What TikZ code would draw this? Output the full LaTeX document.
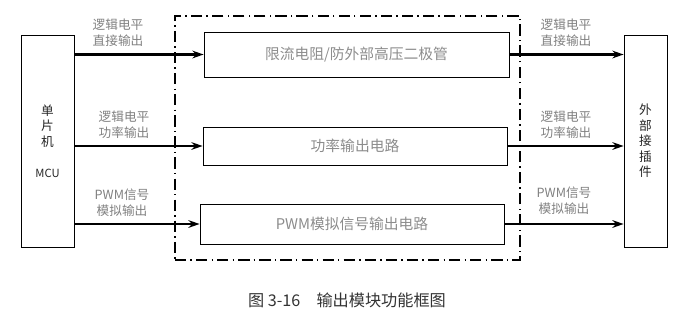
\documentclass[tikz,border=0pt]{standalone}
\usepackage{fontspec}
\newfontfamily\cjk{Noto Sans CJK SC}
\usetikzlibrary{arrows.meta,positioning,calc}

\begin{document}
\begin{tikzpicture}[
    blk/.style={draw, line width=0.6pt, minimum width=7.6cm, minimum height=1cm, align=center, font=\cjk\fontsize{10.5}{12}\selectfont, text=black!45},
    side/.style={draw, line width=0.6pt, minimum height=5.3cm, align=center, font=\cjk\small, text=black!85},
    arr/.style={-{Stealth[length=8pt,width=5.5pt]}, line width=1.5pt},
    lbl/.style={font=\cjk\small, text=black!50, align=center, inner sep=1pt, anchor=south},
    frame/.style={line width=1.4pt, dash pattern=on 8pt off 3pt on 1pt off 3pt}
]
\useasboundingbox (0,0) rectangle (17.225,-7.725);
% frame of the output module
\node[frame, draw, minimum width=8.625cm, minimum height=6.1cm] (frm) at (8.6875,-3.45) {};
% side blocks
\node[side, minimum width=1.325cm] (mcu) at (1.1875,-3.525) {单\\片\\机\\[1.2em]{\footnotesize MCU}};
\node[side, minimum width=1.075cm] (ext) at (16.1375,-3.525) {外\\部\\接\\插\\件};
% inner circuits
\node[blk, minimum height=1.125cm, minimum width=7.625cm] (lim) at (8.9125,-1.3625) {限流电阻/防外部高压二极管};
\node[blk, minimum height=0.95cm] (pwr) at (8.875,-3.65) {功率输出电路};
\node[blk] (pwm) at (8.8,-5.6) {PWM模拟信号输出电路};

\draw[arr] (mcu.east |- lim.west) -- (lim.west);
\draw[arr, line width=1.1pt] (mcu.east |- pwr.west) -- (pwr.west);
\draw[arr] (mcu.east |- pwm.west) -- (pwm.west);
\draw[arr] (lim.east) -- (ext.west |- lim.east);
\draw[arr, line width=1.1pt] (pwr.east) -- (ext.west |- pwr.east);
\draw[arr, line width=1.9pt] (pwm.east) -- (ext.west |- pwm.east);

% signal labels
\node[lbl] (l1) at (2.95,-1.2) {逻辑电平\\直接输出};
\node[lbl] (l2) at (3.1,-3.5) {逻辑电平\\功率输出};
\node[lbl] (l3) at (3.05,-5.45) {PWM信号\\模拟输出};
\node[lbl] (r1) at (14.15,-1.2) {逻辑电平\\直接输出};
\node[lbl] (r2) at (14.15,-3.5) {逻辑电平\\功率输出};
\node[lbl] (r3) at (14.1,-5.4) {PWM信号\\模拟输出};

\node[font=\cjk\fontsize{11.5}{13}\selectfont, text=black!80] (cap) at (8.675,-7.5) {图 3-16\quad 输出模块功能框图};
\end{tikzpicture}
\end{document}
